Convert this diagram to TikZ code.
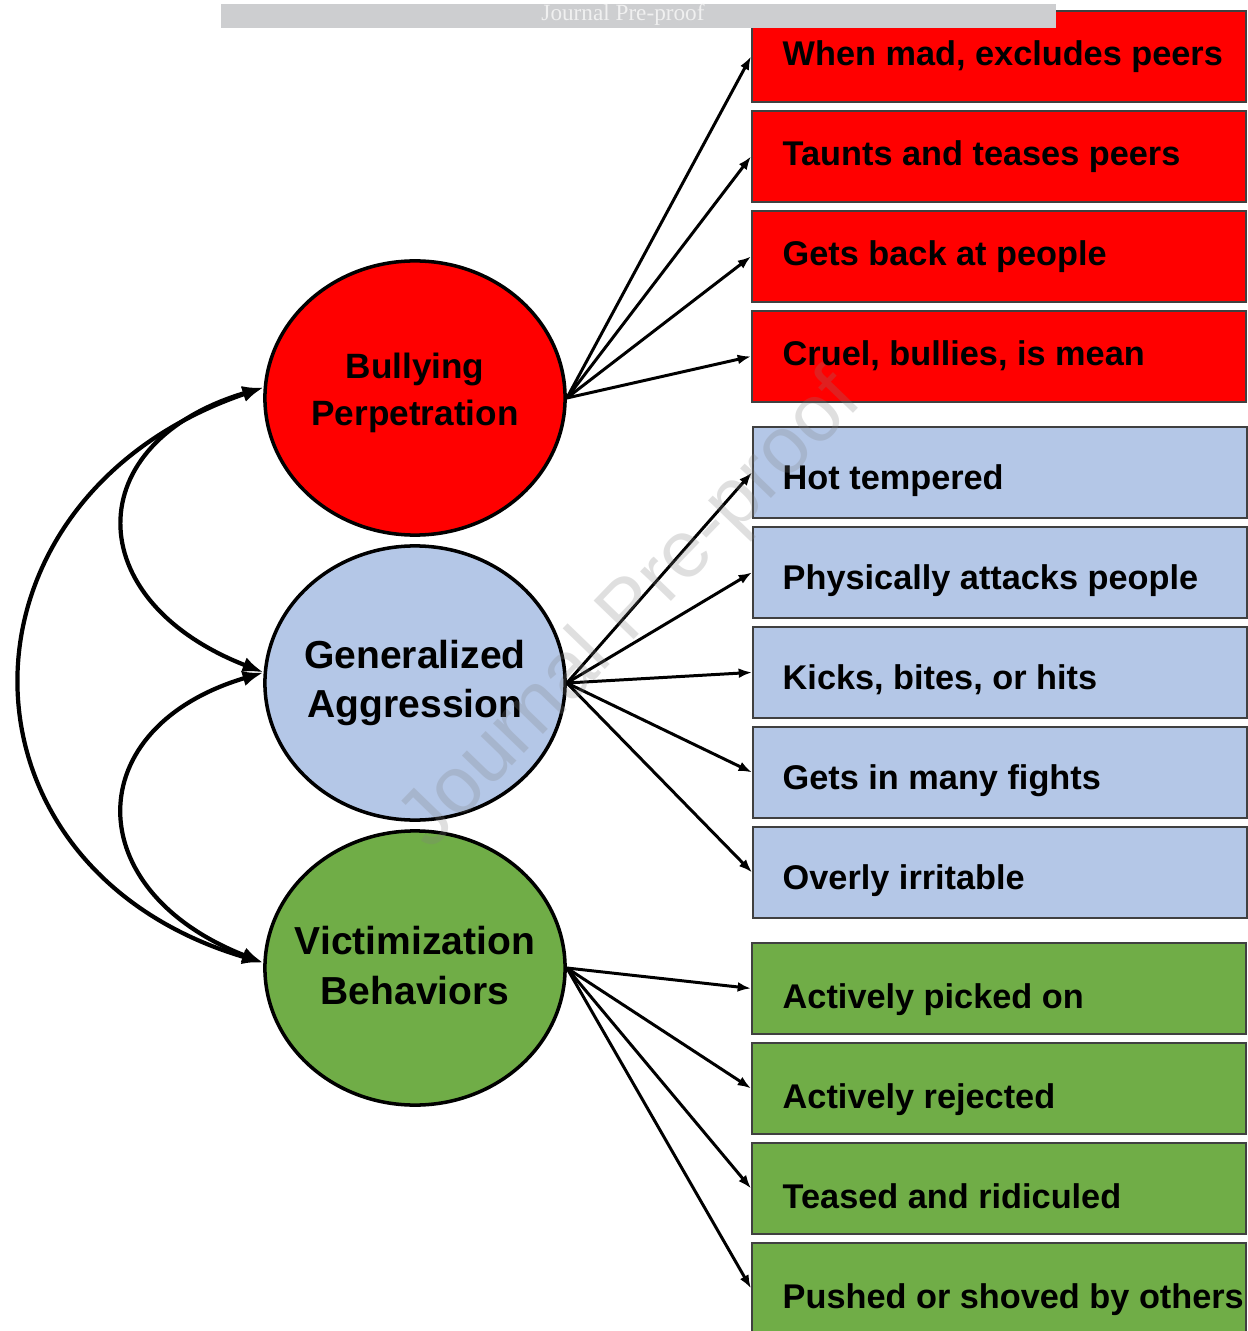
\documentclass[tikz,border=0pt]{standalone}
\usepackage{fontspec}
\setmainfont{Liberation Sans}
\newfontfamily\bannerfont{Liberation Serif}
\usetikzlibrary{shapes.geometric,arrows.meta,positioning}
\definecolor{bullyred}{RGB}{255,0,0}
\definecolor{aggrblue}{RGB}{180,199,231}
\definecolor{victgreen}{RGB}{112,173,71}
\definecolor{bannergray}{RGB}{205,206,208}
\definecolor{boxline}{RGB}{64,64,64}

\begin{document}
\begin{tikzpicture}[x=0.01cm, y=-0.01cm,
    latent/.style={ellipse, draw, line width=1pt, minimum width=3cm, minimum height=2.74cm, inner sep=0pt},
    latenttext/.style={align=center, inner sep=0pt, font=\bfseries\fontsize{11.1}{14.2}\selectfont},
    itembox/.style={rectangle, draw=boxline, line width=0.5pt, anchor=north west, minimum width=4.94cm, minimum height=0.91cm, inner sep=0pt},
    itemtext/.style={font=\bfseries\fontsize{9.75}{12}\selectfont, inner sep=0pt, text height=0.75em, text depth=0.2em},
    load/.style={-{Latex[length=3.8pt,width=2.8pt]}, line width=0.85pt},
    covar/.style={{Latex[length=6pt,width=4.4pt]}-{Latex[length=6pt,width=4.4pt]}, line width=1.2pt}]

  \useasboundingbox (0,0) rectangle (1247,1331);

  % latent factors
  \node[latent, fill=bullyred] (bully) at (415,398) {};
  \node[latent, fill=aggrblue] (aggr) at (415,683) {};
  \node[latent, fill=victgreen] (victim) at (415,968) {};
  \node[latenttext, font=\bfseries\fontsize{10}{13.4}\selectfont] (bullytxt) at (415,393) {Bullying\\Perpetration};
  \node[latenttext] (aggrtxt) at (aggr) {Generalized\\Aggression};
  \node[latenttext] (victimtxt) at (415,966) {Victimization\\Behaviors};

  % indicators
  \foreach \txt [count=\i] in {{When mad, excludes peers}, Taunts and teases peers, Gets back at people, {Cruel, bullies, is mean}} {
    \node[itembox, fill=bullyred] (red\i) at (751,-90+100*\i) {};
    \node[itemtext, right=0.31cm of red\i.west, yshift=0.3pt] (red\i txt) {\txt};
    \draw[load] (bully.east) -- (red\i.west);
  }
  \foreach \txt [count=\i] in {Hot tempered, Physically attacks people, {Kicks, bites, or hits}, Gets in many fights, Overly irritable} {
    \node[itembox, fill=aggrblue] (blue\i) at (752,326+100*\i) {};
    \node[itemtext, right=0.3cm of blue\i.west, yshift=-2pt] (blue\i txt) {\txt};
    \draw[load] (aggr.east) -- (blue\i.west);
  }
  \foreach \txt [count=\i] in {Actively picked on, Actively rejected, Teased and ridiculed, Pushed or shoved by others} {
    \node[itembox, fill=victgreen] (green\i) at (751,842+100*\i) {};
    \node[itemtext, right=0.31cm of green\i.west, yshift=-2.9pt] (green\i txt) {\txt};
    \draw[load] (victim.east) -- (green\i.west);
  }

  % correlations
  \draw[covar] (bully.176) .. controls +(-185,55) and +(-185,-72) .. (aggr.176);
  \draw[covar] (aggr.176) .. controls +(-185,55) and +(-185,-72) .. (victim.178);
  \draw[covar] (bully.176) .. controls +(-322,110) and +(-322,-95) .. (victim.178);

  % journal marks
  \node[fill=bannergray, anchor=north west, minimum width=8.35cm, minimum height=0.24cm, inner sep=0pt] (banner) at (220,3) {};
  \node[text=white!94!black, font=\bannerfont\fontsize{6.6}{7}\selectfont, inner sep=0pt] (bannertxt) at (623,15) {Journal Pre-proof};
  \node[rotate=46, text=gray, opacity=0.25, font=\fontsize{23}{23}\selectfont, inner sep=0pt] (wmark) at (632,612) {Journal Pre-proof};
\end{tikzpicture}
\end{document}
